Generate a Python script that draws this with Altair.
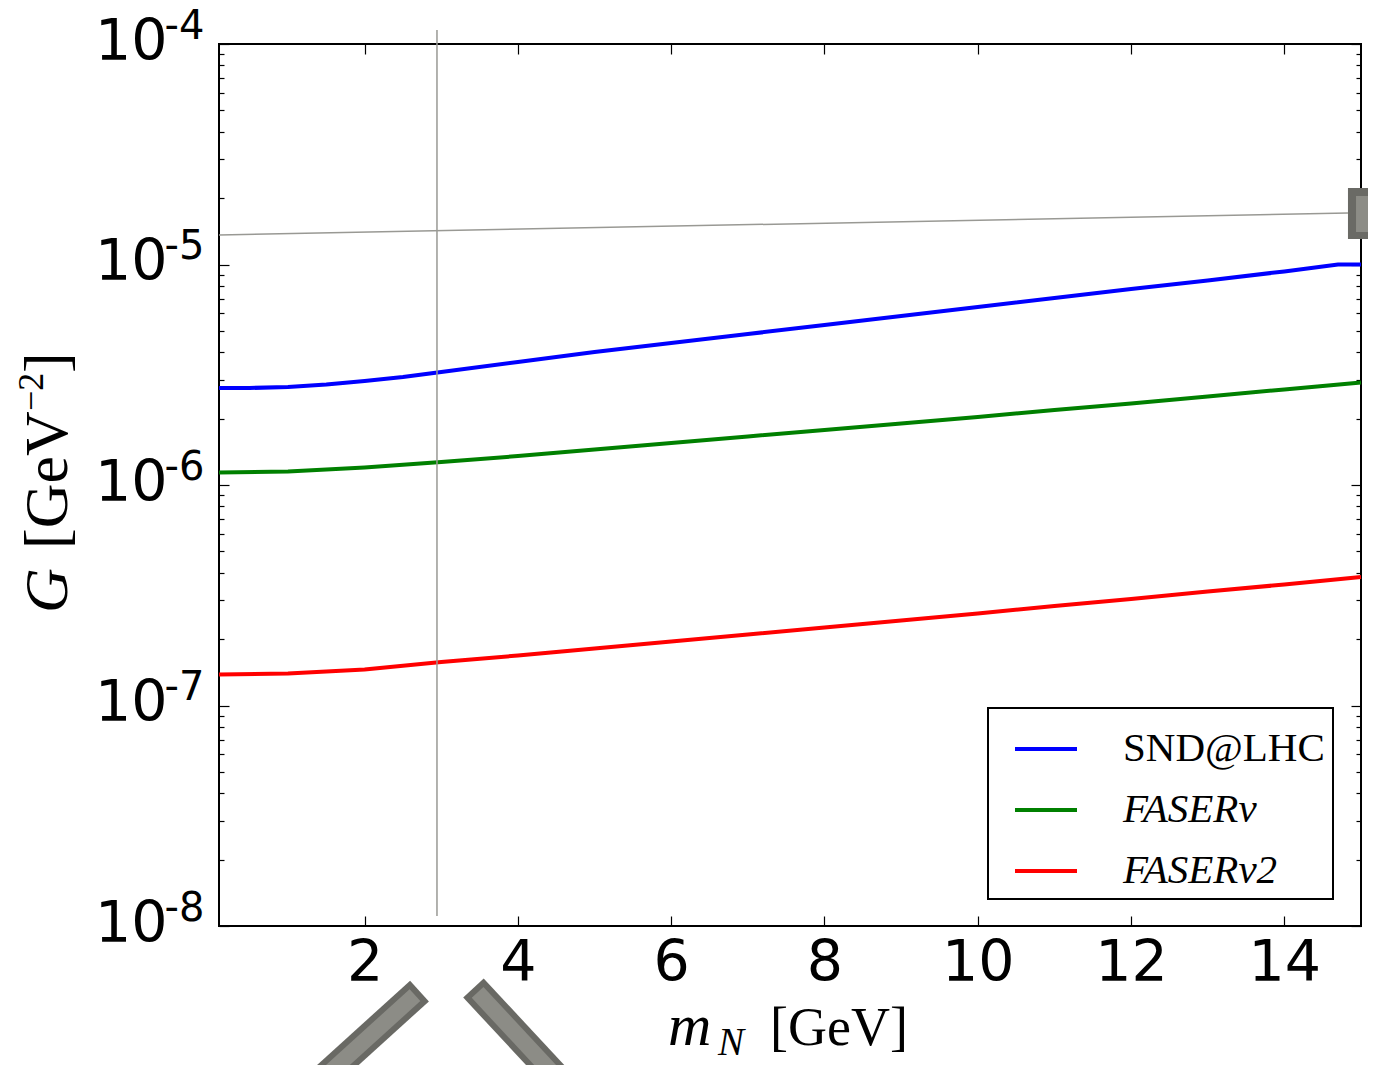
import altair as alt
import pandas as pd

# ---------------- data ----------------
SERIES = ["SND@LHC", "FASERν", "FASERν2"]
COLORS = ["#0000ff", "#008000", "#ff0000"]

X_SND = [0.1, 0.5, 1, 1.5, 2, 2.5, 3, 4, 5, 6, 7, 8, 9, 10, 11, 12, 13, 14, 14.7, 15]
G_SND = [2.754e-6, 2.754e-6, 2.783e-6, 2.857e-6, 2.962e-6, 3.088e-6, 3.255e-6,
         3.612e-6, 4.010e-6, 4.406e-6, 4.839e-6, 5.316e-6, 5.839e-6, 6.415e-6,
         7.047e-6, 7.742e-6, 8.460e-6, 9.305e-6, 1.0e-5, 1.0e-5]

X_FASER = [0.1, 1, 2, 3, 4, 5, 6, 7, 8, 9, 10, 11, 12, 13, 14, 15]
G_FASERNU = [1.139e-6, 1.151e-6, 1.200e-6, 1.271e-6, 1.353e-6, 1.449e-6, 1.551e-6,
             1.660e-6, 1.776e-6, 1.901e-6, 2.034e-6, 2.188e-6, 2.342e-6, 2.520e-6,
             2.712e-6, 2.917e-6]
G_FASERNU2 = [1.382e-7, 1.397e-7, 1.457e-7, 1.575e-7, 1.686e-7, 1.813e-7, 1.951e-7,
              2.099e-7, 2.258e-7, 2.429e-7, 2.613e-7, 2.826e-7, 3.041e-7, 3.289e-7,
              3.538e-7, 3.826e-7]

X_DOMAIN = [0.1, 15]
Y_DOMAIN = [1e-8, 1e-4]
X_TICKS = [2, 4, 6, 8, 10, 12, 14]
Y_TICKS = [1e-8, 1e-7, 1e-6, 1e-5, 1e-4]
Y_TICK_BASE = "10"
Y_TICK_EXP = ["-8", "-7", "-6", "-5", "-4"]
Y_MINOR = [m * 10.0 ** e for e in range(-8, -4) for m in range(2, 10)]

# grey overlay marks present in the reference picture
THIN_SEG = ["v", "v", "h", "h"]
THIN_X = [2.944, 2.944, 0.1, 14.83]
THIN_Y = [1.157e-4, 1.11e-8, 1.361e-5, 1.713e-5]
BOX_X = [14.83, 14.935]
BOX_X2 = [15.3, 15.3]
BOX_Y = [1.306e-5, 1.404e-5]
BOX_Y2 = [2.223e-5, 2.046e-5]
BOX_FILL = ["#6a6a65", "#8c8c86"]
BAR_SEG = ["l", "l", "r", "r"]
BAR_DARK_X = [2.716, 1.148, 3.420, 4.780]
BAR_DARK_Y = [5.07e-9, 1.625e-9, 5.233e-9, 1.625e-9]
BAR_LIGHT_X = [2.657, 1.148, 3.474, 4.780]
BAR_LIGHT_Y = [4.86e-9, 1.625e-9, 4.998e-9, 1.625e-9]

# title pieces
X_TITLE_M, X_TITLE_SUB, X_TITLE_UNIT = "m", "N", "[GeV]"
Y_TITLE_G, Y_TITLE_UNIT, Y_TITLE_EXP, Y_TITLE_CLOSE = "G", "[GeV", "−2", "]"

# ---------------- tables ----------------
rows = []
for name, xv, yv in [(SERIES[0], X_SND, G_SND),
                     (SERIES[1], X_FASER, G_FASERNU),
                     (SERIES[2], X_FASER, G_FASERNU2)]:
    for a, b in zip(xv, yv):
        rows.append({"series": name, "m": a, "G": b})
df = pd.DataFrame(rows)

thin_df = pd.DataFrame({"seg": THIN_SEG, "m": THIN_X, "G": THIN_Y})
box_df = pd.DataFrame({"m": BOX_X, "m2": BOX_X2, "G": BOX_Y, "G2": BOX_Y2, "f": BOX_FILL})
dark_df = pd.DataFrame({"seg": BAR_SEG, "m": BAR_DARK_X, "G": BAR_DARK_Y})
light_df = pd.DataFrame({"seg": BAR_SEG, "m": BAR_LIGHT_X, "G": BAR_LIGHT_Y})

xs = alt.Scale(domain=X_DOMAIN, nice=False, zero=False)
ys = alt.Scale(type="log", domain=Y_DOMAIN, nice=False)

TICK_FONT = "DejaVu Sans"
SERIF = "Liberation Serif"

common = dict(title=None, domain=False, grid=False, labelFlush=False, labelOverlap=False)


def tick_axis(orient, values, size):
    return alt.Axis(orient=orient, values=values, labels=False, ticks=True,
                    tickSize=size, offset=-size, tickColor="black", tickWidth=1.2,
                    **common)


def xq(axis=None):
    return alt.X("m:Q", scale=xs, axis=axis)


def yq(axis=None):
    return alt.Y("G:Q", scale=ys, axis=axis)


exp_expr = ("[" + ",".join("'%s'" % s for s in Y_TICK_EXP) + "]"
            "[round(log(datum.value)/LN10)+8]")

legend = alt.Legend(
    orient="none", legendX=769, legendY=664, direction="vertical",
    fillColor="white", strokeColor="black", padding=8, cornerRadius=0,
    symbolType="stroke", symbolSize=3844, symbolStrokeWidth=4, symbolOffset=17,
    labelOffset=44, rowPadding=8, labelFont=SERIF, labelFontSize=41,
    labelLimit=600, labelColor="black",
    labelFontStyle=alt.ExprRef(expr="datum.label == 'SND@LHC' ? 'normal' : 'italic'"),
)

lines = alt.Chart(df).mark_line(strokeWidth=4, interpolate="linear").encode(
    x=xq(alt.Axis(orient="bottom", values=X_TICKS, ticks=False, tickSize=0,
                  labelPadding=54, labelBaseline="alphabetic", labelFont=TICK_FONT,
                  labelFontSize=57, labelColor="black", **common)),
    y=yq(alt.Axis(orient="left", values=Y_TICKS, labelExpr="'%s'" % Y_TICK_BASE,
                  ticks=False, tickSize=0, labelPadding=52, labelAlign="right",
                  labelBaseline="alphabetic", labelOffset=15, labelFont=TICK_FONT,
                  labelFontSize=57, labelColor="black", **common)),
    color=alt.Color("series:N", scale=alt.Scale(domain=SERIES, range=COLORS),
                    legend=legend, title=None),
)

ghost = alt.Chart(df).mark_point(opacity=0, size=1)

axB = ghost.encode(
    x=xq(tick_axis("bottom", X_TICKS, 10)),
    y=yq(alt.Axis(orient="left", values=Y_TICKS, labelExpr=exp_expr, ticks=False,
                  tickSize=0, labelPadding=15, labelAlign="right",
                  labelBaseline="alphabetic", labelOffset=-6, labelFont=TICK_FONT,
                  labelFontSize=40, labelColor="black", **common)),
)
axC = ghost.encode(x=xq(tick_axis("top", X_TICKS, 10)), y=yq(tick_axis("left", Y_TICKS, 10)))
axD = ghost.encode(x=xq(), y=yq(tick_axis("left", Y_MINOR, 5)))
axE = ghost.encode(x=xq(), y=yq(tick_axis("right", Y_TICKS, 10)))
axF = ghost.encode(x=xq(), y=yq(tick_axis("right", Y_MINOR, 5)))

thin = alt.Chart(thin_df).mark_line(color="#999994", strokeWidth=1.5).encode(
    x=xq(), y=yq(), detail="seg:N")
box = alt.Chart(box_df).mark_rect().encode(
    x=xq(), x2="m2:Q", y=yq(), y2="G2:Q",
    fill=alt.Fill("f:N", scale=None))
bar_dark = alt.Chart(dark_df).mark_line(color="#696964", strokeWidth=28, strokeCap="butt").encode(
    x=xq(), y=yq(), detail="seg:N")
bar_light = alt.Chart(light_df).mark_line(color="#8c8c86", strokeWidth=16, strokeCap="butt").encode(
    x=xq(), y=yq(), detail="seg:N")


def txt(s, x, y, size, style="normal", angle=0):
    return alt.Chart(pd.DataFrame({"t": [s]})).mark_text(
        align="left", baseline="alphabetic", font=SERIF, fontSize=size,
        fontStyle=style, angle=angle, color="black").encode(
        x=alt.value(x), y=alt.value(y), text="t:N")


titles = [
    txt(X_TITLE_M, 449, 1001, 60, "italic"),
    txt(X_TITLE_SUB, 499, 1011, 39, "italic"),
    txt(X_TITLE_UNIT, 551, 1001, 54),
    txt(Y_TITLE_G, -152, 569, 62, "italic", 270),
    txt(Y_TITLE_UNIT, -152, 505, 62, "normal", 270),
    txt(Y_TITLE_EXP, -176, 367, 36, "normal", 270),
    txt(Y_TITLE_CLOSE, -152, 329, 62, "normal", 270),
]

chart = alt.layer(
    lines, axB, axC, axD, axE, axF, thin, box, bar_dark, bar_light, *titles
).resolve_axis(x="independent", y="independent").properties(
    width=1142, height=882,
    autosize=alt.AutoSizeParams(type="none"),
    padding={"left": 211, "top": 36, "right": 7, "bottom": 139},
).configure_view(stroke="black", strokeWidth=2).configure_legend(strokeWidth=2)

chart.save("out.html", embed_options={"renderer": "svg", "actions": False})
